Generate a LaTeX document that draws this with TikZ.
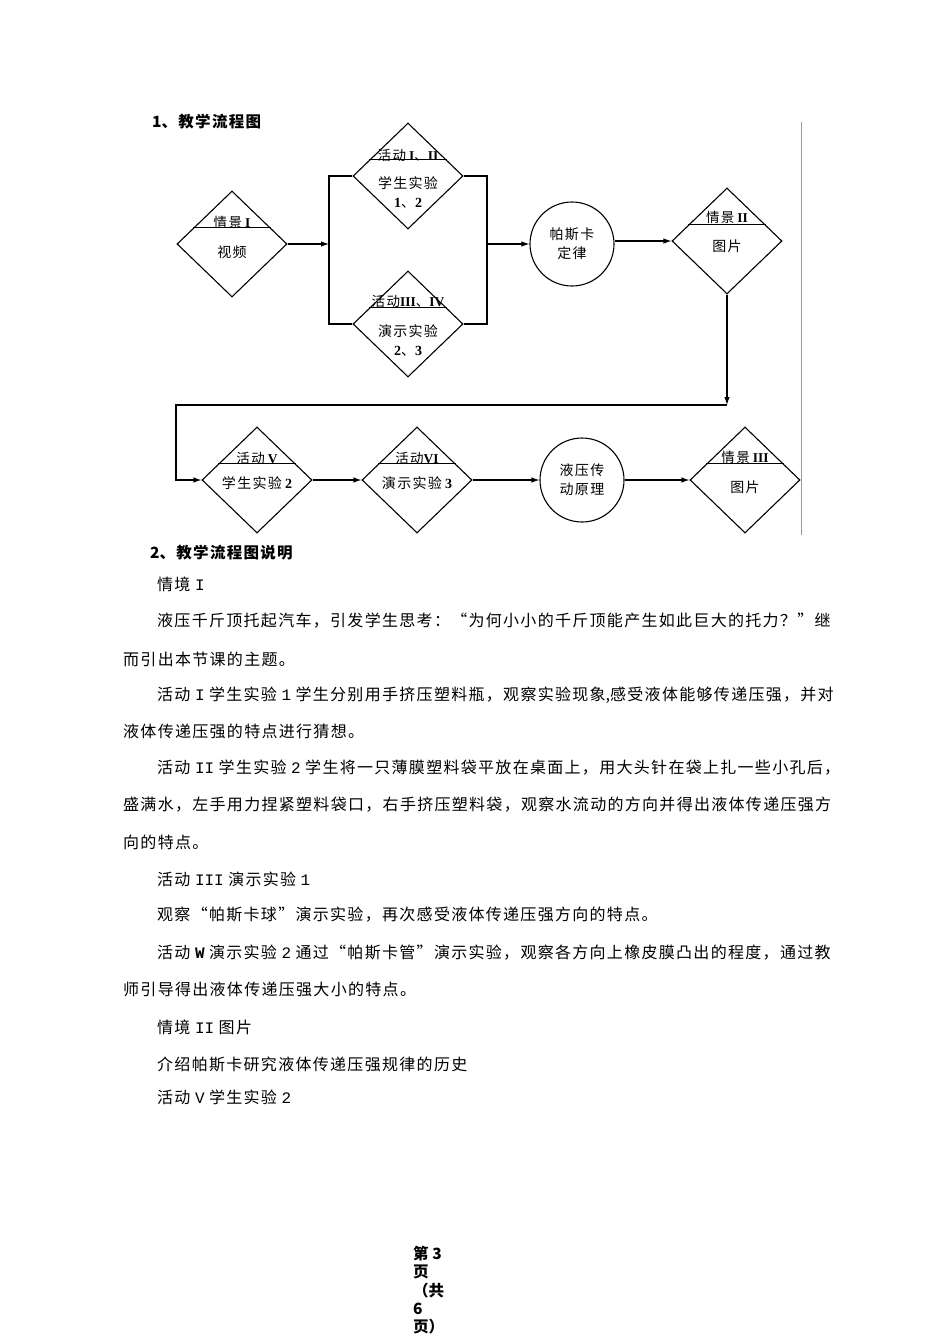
\documentclass[tikz,border=0pt]{standalone}
\usepackage{fontspec}
\setmainfont{Noto Sans CJK SC}
\newfontfamily\latser{Liberation Serif}
\newfontfamily\latmono{Liberation Mono}
\usepackage{tikz}
\usetikzlibrary{positioning, arrows.meta, calc, shapes.geometric}
% spacing between Chinese characters, stretchable for the full lines
\newXeTeXintercharclass\cjkcls
\newcount\cjkidx
\cjkidx="4E00
\loop
  \XeTeXcharclass\cjkidx=\cjkcls
  \advance\cjkidx by 1
\ifnum\cjkidx<"A000 \repeat
\XeTeXcharclass"3001=\cjkcls \XeTeXcharclass"3002=\cjkcls
\XeTeXcharclass"FF0C=\cjkcls \XeTeXcharclass"FF1A=\cjkcls
\XeTeXcharclass"FF1F=\cjkcls \XeTeXcharclass"201C=\cjkcls
\XeTeXcharclass"201D=\cjkcls
\XeTeXinterchartokenstate=1
\newcommand\cjkglue{\hskip1.3pt plus 4pt\relax}
\XeTeXinterchartoks\cjkcls\cjkcls={\cjkglue}
\newcommand\rmb[1]{{\latser\bfseries #1}}
\newcommand\lm[1]{\hspace{4.5pt}{\latmono #1}\hspace{4.5pt}}
\newcommand\fullline[2]{\hbox to #1{#2}}
\tikzset{
  actbox/.style={
    diamond, draw, line width=1.1pt, minimum width=110pt,
    minimum height=106pt, inner sep=0pt
  },
  lawcirc/.style={
    circle, draw, line width=1.1pt, minimum size=84pt, inner sep=0pt,
    align=center, font=\fontsize{14}{19}\selectfont
  },
  link/.style={line width=1.1pt},
  arr/.style={link, -{Latex[length=8pt,width=5.5pt]}},
  toptxt/.style={inner sep=0pt, font=\fontsize{13.5}{16}\selectfont},
  intxt/.style={inner sep=0pt, align=center, font=\fontsize{14}{19}\selectfont},
  headtxt/.style={anchor=west, inner sep=0pt, font=\fontsize{15.5}{18}\selectfont\bfseries},
  bodytxt/.style={anchor=west, inner sep=0pt, font=\fontsize{16}{20}\selectfont},
  pageedge/.style={draw=black!40, line width=0.8pt},
}
\begin{document}
\begin{tikzpicture}[x=1pt,y=-1pt]
  \useasboundingbox (0,0) rectangle (950,1344);
  \node[headtxt] (head1) at (152,122) {1、教学流程图};
  % first row
  \node[actbox] (qj1) at (232,244) {};
  \node[actbox] (hdA) at (408,176) {};
  \node[actbox] (hdB) at (408,324) {};
  \node[lawcirc] (pascal) at (572,244) {帕斯卡\\定律};
  \node[actbox] (qj2) at (727,241) {};
  % second row
  \node[actbox] (hd5) at (257,480) {};
  \node[actbox] (hd6) at (417,480) {};
  \node[lawcirc] (yaya) at (582,480) {液压传\\动原理};
  \node[actbox] (qj3) at (745,480) {};
  \foreach \n in {qj1,hdA,hdB,qj2,hd5,hd6,qj3}
    \draw[link] ($(\n.west)!0.3!(\n.north)$) -- ($(\n.east)!0.3!(\n.north)$);
  % texts in the diamonds
  \node[toptxt] (qj1t) at ([yshift=22pt]qj1.center) {情景 \rmb{I}};
  \node[intxt] (qj1b) at ([yshift=-8pt]qj1.center) {视频};
  \node[toptxt] (hdAt) at ([yshift=21pt]hdA.center) {活动 \rmb{I}、\rmb{II}};
  \node[intxt] (hdAb) at ([yshift=-16pt]hdA.center) {学生实验\\\rmb{1}、\rmb{2}};
  \node[toptxt] (hdBt) at ([yshift=23pt]hdB.center) {活动\rmb{III}、\rmb{IV}};
  \node[intxt] (hdBb) at ([yshift=-16pt]hdB.center) {演示实验\\\rmb{2}、\rmb{3}};
  \node[toptxt] (qj2t) at ([yshift=24pt]qj2.center) {情景 \rmb{II}};
  \node[intxt] (qj2b) at ([yshift=-5pt]qj2.center) {图片};
  \node[toptxt] (hd5t) at ([yshift=22pt]hd5.center) {活动 \rmb{V}};
  \node[intxt] (hd5b) at ([yshift=-3pt]hd5.center) {学生实验 \rmb{2}};
  \node[toptxt] (hd6t) at ([yshift=22pt]hd6.center) {活动\rmb{VI}};
  \node[intxt] (hd6b) at ([yshift=-3pt]hd6.center) {演示实验 \rmb{3}};
  \node[toptxt] (qj3t) at ([yshift=23pt]qj3.center) {情景 \rmb{III}};
  \node[intxt] (qj3b) at ([yshift=-7pt]qj3.center) {图片};
  % connectors
  \coordinate (splitL) at (329,244);
  \coordinate (splitR) at (487,244);
  \coordinate (turnR) at (727,405);
  \coordinate (turnL) at (176,405);
  \draw[arr] (qj1.east) -- (splitL);
  \draw[link] (hdA.west) -| (splitL) |- (hdB.west);
  \draw[link] (hdA.east) -| (splitR) |- (hdB.east);
  \draw[arr] (splitR) -- (pascal.west);
  \draw[arr] (pascal.east |- qj2.west) -- (qj2.west);
  \draw[arr] (qj2.south) -- (turnR);
  \draw[arr] (turnR) -- (turnL) |- (hd5.west);
  \draw[arr] (hd5) -- (hd6);
  \draw[arr] (hd6) -- (yaya);
  \draw[arr] (yaya) -- (qj3);
  \draw[pageedge] (801,122) -- (801,535);
  % explanation
  \node[headtxt] (head2) at (150,553) {2、教学流程图说明};
  \node[bodytxt] (b0) at (157,584) {情境\lm{I}};
  \node[bodytxt] (b1) at (157,621) {\fullline{673pt}{液压千斤顶托起汽车，引发学生思考：“为何小小的千斤顶能产生如此巨大的托力？”继}};
  \node[bodytxt] (b2) at (123,659) {而引出本节课的主题。};
  \node[bodytxt] (b3) at (157,695) {\fullline{673pt}{活动\lm{I}学生实验\lm{1}学生分别用手挤压塑料瓶，观察实验现象,感受液体能够传递压强，并对}};
  \node[bodytxt] (b4) at (123,731) {液体传递压强的特点进行猜想。};
  \node[bodytxt] (b5) at (157,768) {\fullline{673pt}{活动\lm{II}学生实验\lm{2}学生将一只薄膜塑料袋平放在桌面上，用大头针在袋上扎一些小孔后，}};
  \node[bodytxt] (b6) at (123,805) {\fullline{707pt}{盛满水，左手用力捏紧塑料袋口，右手挤压塑料袋，观察水流动的方向并得出液体传递压强方}};
  \node[bodytxt] (b7) at (123,842) {向的特点。};
  \node[bodytxt] (b8) at (157,879) {活动\lm{III}演示实验\lm{1}};
  \node[bodytxt] (b9) at (157,915) {观察“帕斯卡球”演示实验，再次感受液体传递压强方向的特点。};
  \node[bodytxt] (b10) at (157,953) {\fullline{673pt}{活动\lm{\bfseries W}演示实验\lm{2}通过“帕斯卡管”演示实验，观察各方向上橡皮膜凸出的程度，通过教}};
  \node[bodytxt] (b11) at (123,989) {师引导得出液体传递压强大小的特点。};
  \node[bodytxt] (b12) at (157,1027) {情境\lm{II}图片};
  \node[bodytxt] (b13) at (157,1064) {介绍帕斯卡研究液体传递压强规律的历史};
  \node[bodytxt] (b14) at (157,1097) {活动\lm{V}学生实验\lm{2}};
  % page footer
  \node[headtxt] (foot) at (413,1292) {\begin{tabular}{@{}l@{}}第 3\\页\\（共\\6\\页）\end{tabular}};
\end{tikzpicture}
\end{document}
